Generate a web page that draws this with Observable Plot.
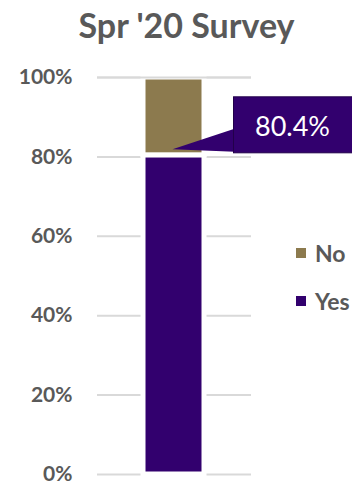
<!DOCTYPE html>
<html>
<head>
<meta charset="utf-8">
<script src="https://cdn.jsdelivr.net/npm/d3@7"></script>
<script src="https://cdn.jsdelivr.net/npm/@observablehq/plot@0.6"></script>
<style>
  html, body { margin: 0; padding: 0; background: #fff; }
  #wrap { position: relative; width: 352px; height: 485px; overflow: hidden; font-family: Lato, "Open Sans", sans-serif; }
  #title { height: 50px; text-align: center; font-size: 34px; font-weight: bold; color: #595959; line-height: 50px; padding-left: 21px; box-sizing: border-box; white-space: nowrap; }
  #legend { position: absolute; left: 296px; top: 239px; font-size: 23px; font-weight: bold; color: #595959; }
  #legend .item { display: flex; align-items: center; height: 28px; margin-bottom: 20px; }
  #legend .sw { width: 10px; height: 10px; margin-right: 9px; }
  svg { overflow: visible; }
</style>
</head>
<body>
<div id="wrap">
  <div id="title"></div>
  <div id="chart"></div>
  <div id="legend"></div>
</div>
<script>
const title = "Spr '20 Survey";
const categories = ["Spr '20 Survey"];
const responses = ["Yes", "No"];
const values = [80.4, 19.6];
const legendOrder = ["No", "Yes"];
const colors = ["#32006e", "#8c7a4e"];
const yTicks = [0, 20, 40, 60, 80, 100];
const calloutValue = 80.4;
const calloutLabel = "80.4%";

const rows = responses.map((r, i) => ({cat: categories[0], response: r, value: values[i]}));

document.getElementById("title").textContent = title;

const callout = (index, scales, values, dimensions) => {
  const x = scales.x;
  const y = scales.y;
  const bw = x.bandwidth ? x.bandwidth() : 0;
  const cx = x(categories[0]) + bw / 2;
  const cy = y(calloutValue);
  const g = d3.create("svg:g");
  const bx = cx + 60;
  g.append("path")
    .attr("d", `M${cx - 1},${cy - 5.5}L${bx + 1},${cy - 26}L${bx + 1},${cy - 3}Z`)
    .attr("fill", "#32006e");
  g.append("rect")
    .attr("x", bx).attr("y", cy - 58)
    .attr("width", 130).attr("height", 56)
    .attr("fill", "#32006e").attr("stroke", "#22004a").attr("stroke-width", 1);
  g.append("text")
    .attr("x", bx + 59).attr("y", cy - 29)
    .attr("text-anchor", "middle").attr("dominant-baseline", "central")
    .attr("fill", "white")
    .style("font-family", "Lato, 'Open Sans', sans-serif")
    .style("font-size", "27px").style("font-weight", "normal")
    .text(calloutLabel);
  return g.node();
};

const plot = Plot.plot({
  width: 352,
  height: 435,
  marginTop: 27,
  marginBottom: 11,
  marginLeft: 97,
  marginRight: 101,
  style: {fontFamily: "Lato, 'Open Sans', sans-serif", fontSize: "21px", fontWeight: "bold", color: "#595959", background: "white"},
  x: {domain: categories, padding: 0.426, axis: null},
  y: {domain: [0, 100], ticks: yTicks, tickFormat: d => d + "%", tickSize: 0, tickPadding: 25, label: null},
  color: {domain: responses, range: colors},
  marks: [
    Plot.ruleY(yTicks, {stroke: "#d9d9d9", strokeWidth: 2}),
    Plot.barY(rows, Plot.stackY({x: "cat", y: "value", fill: "response", stroke: "white", strokeWidth: 5, order: responses})),
    Plot.ruleY([yTicks[yTicks.length - 1]], {stroke: "#d9d9d9", strokeWidth: 2}),
    callout
  ]
});
document.getElementById("chart").appendChild(plot);

const legend = document.getElementById("legend");
legendOrder.forEach(r => {
  const item = document.createElement("div");
  item.className = "item";
  const sw = document.createElement("span");
  sw.className = "sw";
  sw.style.background = colors[responses.indexOf(r)];
  const t = document.createElement("span");
  t.textContent = r;
  item.appendChild(sw);
  item.appendChild(t);
  legend.appendChild(item);
});
</script>
</body>
</html>
